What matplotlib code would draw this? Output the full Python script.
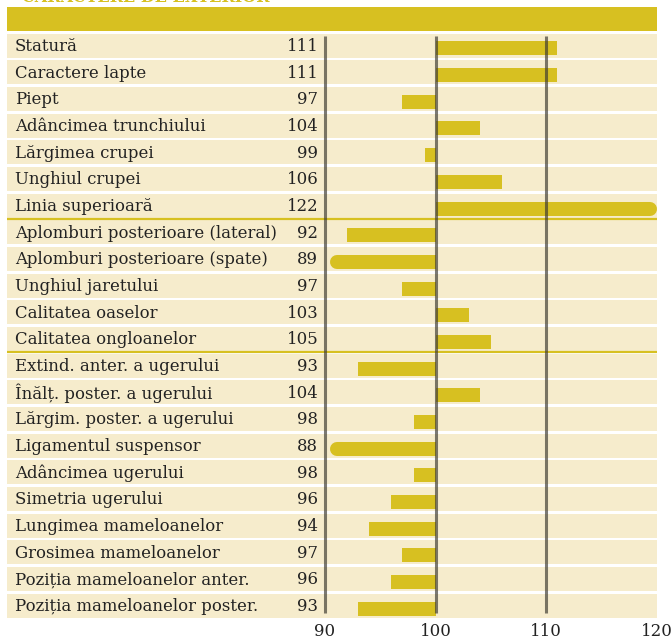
import matplotlib.pyplot as plt
from matplotlib.patches import Rectangle

# data
traits = ['Statură', 'Caractere lapte', 'Piept', 'Adâncimea trunchiului',
          'Lărgimea crupei', 'Unghiul crupei', 'Linia superioară',
          'Aplomburi posterioare (lateral)', 'Aplomburi posterioare (spate)',
          'Unghiul jaretului', 'Calitatea oaselor', 'Calitatea ongloanelor',
          'Extind. anter. a ugerului', 'Înălț. poster. a ugerului',
          'Lărgim. poster. a ugerului', 'Ligamentul suspensor',
          'Adâncimea ugerului', 'Simetria ugerului', 'Lungimea mameloanelor',
          'Grosimea mameloanelor', 'Poziția mameloanelor anter.',
          'Poziția mameloanelor poster.']
values = [111, 111, 97, 104, 99, 106, 122, 92, 89, 97, 103, 105,
          93, 104, 98, 88, 98, 96, 94, 97, 96, 93]
group_breaks = [6.5, 11.5]
ticks = [90, 100, 110, 120]
title = 'CARACTERE DE EXTERIOR'

gold = '#D7C021'
beige = '#F6ECCC'
lines_c = '#3C3930'
fnt = 'DejaVu Serif'

W, H = 672, 639
fig = plt.figure(figsize=(W / 100, H / 100), dpi=100)

top_px, bot_px = 32.2, 619
ax = fig.add_axes([7 / W, 1 - bot_px / H, 650 / W, (bot_px - top_px) / H])
xmin, xmax = 61.27, 120
n = len(traits)
ax.set_xlim(xmin, xmax)
ax.set_ylim(n - 0.5, -0.5)
for s in ax.spines.values():
    s.set_visible(False)
ax.set_yticks([])
ax.set_xticks(ticks)
ax.set_xticklabels([str(t) for t in ticks], fontfamily=fnt, fontsize=12)
ax.tick_params(axis='x', length=0, pad=3, labelcolor='#222222')

# row bands
ax.barh(range(n), xmax - xmin, left=xmin, height=0.9, color=beige, zorder=1)
for b in group_breaks:
    ax.axhline(b, color=gold, lw=1.6, zorder=1)

# bars
lo, hi = 90.45, 120
r = 0.63
bh = 0.525
off = 0.11
for i, v in enumerate(values):
    y = i + off
    if v > hi:
        ax.barh(y, hi - r - 100, left=100, height=bh, color=gold, zorder=2)
        ax.plot([hi - r - 0.5, hi - r], [y, y], color=gold, lw=10.1,
                solid_capstyle='round', zorder=2)
    elif v < lo:
        ax.barh(y, 100 - (lo + r), left=lo + r, height=bh, color=gold, zorder=2)
        ax.plot([lo + r, lo + r + 0.5], [y, y], color=gold, lw=10.1,
                solid_capstyle='round', zorder=2)
    else:
        ax.barh(y, v - 100, left=100, height=bh, color=gold, zorder=2)

# reference lines
ax.vlines([90, 100, 110], -0.36, n - 0.72, color=lines_c, alpha=0.67,
          lw=2.2, zorder=3)

# labels
for i, (t, v) in enumerate(zip(traits, values)):
    ax.text(61.27 + 0.72, i + 0.03, t, ha='left', va='center',
            fontfamily=fnt, fontsize=11.9, color='#222222', zorder=4)
    ax.text(89.4, i + 0.03, str(v), ha='right', va='center',
            fontfamily=fnt, fontsize=11.9, color='#222222', zorder=4)

# header band and title (cut off at the top edge, as in the original)
fig.add_artist(Rectangle((7 / W, 1 - 31 / H), 650 / W, 24 / H,
                         transform=fig.transFigure, color=gold, lw=0))
fig.text(22 / W, 1 - 1.5 / H, title, ha='left', va='baseline',
         fontfamily=fnt, fontweight='bold', fontsize=11.5, color=gold)

fig.savefig('out.png', dpi=100)
